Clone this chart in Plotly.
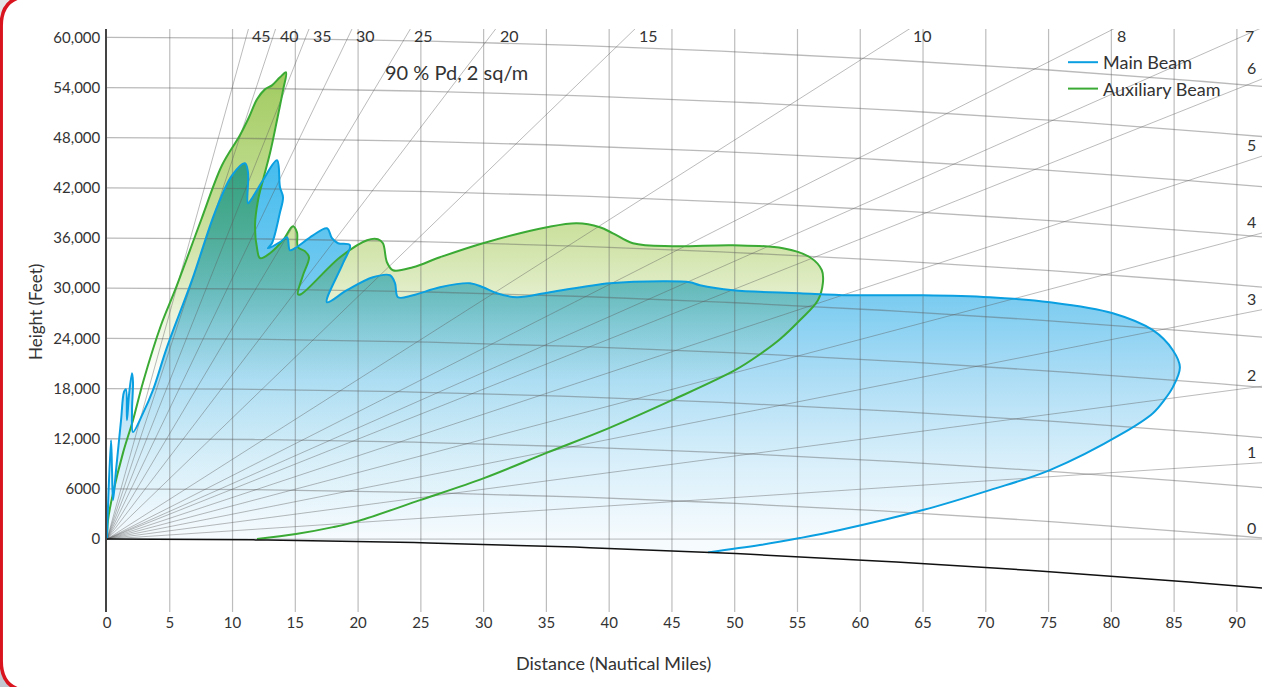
import numpy as np
import plotly.graph_objects as go

# ---------------- data ----------------
# Main beam coverage outline: distance (NM), height (ft)
main_d = [0, 0.08, 0.32, 0.40, 0.48, 0.72, 1.12, 1.35, 1.51, 1.59, 1.75, 1.99, 2.07, 1.99, 2.07,
          2.87, 3.66, 4.78, 6.77, 8.60, 9.96, 10.99, 11.23, 11.23, 11.55, 12.42, 13.54, 13.78,
          14.02, 13.78, 13.14, 12.82, 13.78, 14.34, 14.57, 14.97, 16.41, 17.52, 17.92, 18.40,
          19.35, 18.80, 17.52, 19.11, 21.18, 22.54, 22.94, 23.18, 24.37, 26.52, 28.91, 29.95,
          31.06, 32.65, 35.28, 40.06, 44.28, 46.43, 47.23, 49.86, 55.19, 59.18, 64.99, 70.32,
          75.10, 80.12, 83.31, 84.90, 85.46, 84.90, 84.20, 83.31, 80.92, 75.10, 70.32, 64.99,
          58.38, 55.19, 52.01, 47.87]
main_h = [0, 3830, 11830, 8250, 4660, 8250, 14220, 17570, 17930, 14220, 17210, 19840, 18760, 15180,
          12790, 15060, 17810, 22950, 30960, 39080, 43500, 44940, 43860, 40160, 40760, 42910,
          45300, 42070, 40880, 39080, 35380, 34780, 35500, 36090, 34540, 34780, 36330, 37170,
          35980, 35380, 35140, 32990, 28330, 29760, 31310, 31550, 30600, 28920, 29160, 30120,
          30600, 30120, 29400, 28920, 29520, 30600, 30840, 30720, 30360, 29760, 29400, 29160,
          29160, 28920, 28330, 27010, 24980, 22590, 20560, 18170, 16600, 15060, 12670, 8250,
          5860, 3470, 1080, 120, -720, -1590]

# Auxiliary beam coverage outline
aux_d = [0, 0.08, 0.48, 1.27, 2.07, 2.87, 4.30, 5.42, 7.49, 9.16, 10.59, 11.31, 11.95, 12.58,
         13.14, 13.78, 14.26, 14.02, 13.54, 12.98, 12.42, 12.03, 11.79, 11.95, 12.19, 12.98,
         14.02, 14.81, 15.13, 15.21, 15.77, 16.09, 15.61, 15.21, 15.45, 18.56, 20.71, 21.58,
         21.98, 22.30, 22.78, 24.37, 26.52, 29.95, 35.04, 37.43, 39.26, 40.30, 41.89, 45.08,
         49.86, 53.84, 55.99, 56.94, 57.02, 56.63, 55.19, 53.60, 52.01, 50.02, 45.00, 39.98,
         34.96, 30.03, 24.93, 19.99, 18.00, 15.05, 11.95]
aux_h = [0, 2270, 5500, 10280, 14220, 18760, 25570, 29760, 38130, 44700, 48290, 50440, 52590,
         53780, 54260, 55220, 55820, 53660, 50080, 46130, 42910, 40520, 37530, 34780, 33590,
         34180, 35740, 37410, 36690, 34900, 34420, 33700, 31550, 29280, 29280, 33700, 35740,
         35860, 35380, 33110, 32150, 32510, 33700, 35380, 37290, 37770, 37290, 36570, 35380,
         35020, 35140, 34780, 33700, 32150, 30600, 28570, 26170, 23900, 22110, 20200, 16610,
         13270, 10280, 7290, 4660, 2150, 1430, 600, 0]

assert len(main_d) == len(main_h) and len(aux_d) == len(aux_h)

x_ticks = list(range(0, 95, 5))
y_tick_vals = [0, 6000, 12000, 18000, 24000, 30000, 36000, 42000, 48000, 54000, 60000]
y_tick_text = ["0", "6000", "12,000", "18,000", "24,000", "30,000", "36,000", "42,000",
               "48,000", "54,000", "60,000"]
height_levels = [6000, 12000, 18000, 24000, 30000, 36000, 42000, 48000, 54000, 60000]
elev_right = [0, 1, 2, 3, 4, 5, 6]                 # labelled on the right edge (degrees)
elev_top = [7, 8, 10, 15, 20, 25, 30, 35, 40, 45]  # labelled along the top (degrees)

# ---------------- geometry constants ----------------
D_MAX = 92.0
Y_MIN, Y_MAX = -8720, 61000
EARTH_C = 0.692          # ft per NM^2 (earth curvature drop)
K_RIGHT = 5690.0         # ft per NM per unit tan(elevation)
K_TOP = 5414.0

FONT = "Lato, 'Open Sans', sans-serif"
TXT = "#333333"
BLUE = "#0a9fe0"
GREEN = "#3aaa35"
SMOOTH = 1.0
W_TXT = 400

fig = go.Figure()

# --- fills ---
ed = np.linspace(main_d[-1], 0, 40)
blue_fill_d = list(main_d) + list(ed)
blue_fill_h = list(main_h) + list(-EARTH_C * ed ** 2)

fig.add_trace(go.Scatter(
    x=aux_d, y=aux_h, mode="lines", fill="toself",
    line=dict(width=0, shape="spline", smoothing=SMOOTH),
    fillgradient=dict(type="vertical", start=0, stop=56000,
                      colorscale=[[0, "rgb(255,255,255)"], [0.34, "rgb(254,255,252)"],
                                  [0.46, "rgb(238,245,224)"], [0.56, "rgb(220,234,190)"],
                                  [0.66, "rgb(204,225,160)"], [1, "rgb(160,203,95)"]]),
    showlegend=False, hoverinfo="skip"))
fig.add_trace(go.Scatter(
    x=blue_fill_d, y=blue_fill_h, mode="lines", fill="toself",
    line=dict(width=0, shape="spline", smoothing=SMOOTH),
    fillgradient=dict(type="vertical", start=0, stop=45000,
                      colorscale=[[0, "rgb(246,251,254)"], [0.22, "rgb(214,238,250)"],
                                  [0.44, "rgb(170,220,245)"], [0.66, "rgb(118,202,240)"],
                                  [1, "rgb(70,189,238)"]]),
    showlegend=False, hoverinfo="skip"))

# --- grid: vertical distance lines ---
gx, gy = [], []
for t in x_ticks[1:]:
    gx += [t, t, None]
    gy += [Y_MIN, Y_MAX, None]
fig.add_trace(go.Scatter(x=gx, y=gy, mode="lines", line=dict(color="rgba(90,90,90,0.40)", width=1.2),
                         showlegend=False, hoverinfo="skip"))

# --- grid: constant-height curves ---
dd = np.linspace(0, D_MAX, 80)
hx, hy = [], []
for H in height_levels:
    hx += list(dd) + [None]
    hy += list(H - EARTH_C * dd ** 2) + [None]
fig.add_trace(go.Scatter(x=hx, y=hy, mode="lines", line=dict(color="rgba(90,90,90,0.42)", width=1.3),
                         showlegend=False, hoverinfo="skip"))

# --- grid: elevation angle lines ---
ex, ey = [], []
for a in elev_right:
    ex += [0, D_MAX, None]
    ey += [0, K_RIGHT * D_MAX * np.tan(np.radians(a)), None]
for a in elev_top:
    ex += [0, D_MAX, None]
    ey += [0, K_TOP * D_MAX * np.tan(np.radians(a)), None]
fig.add_trace(go.Scatter(x=ex, y=ey, mode="lines", line=dict(color="rgba(90,90,90,0.46)", width=0.9),
                         showlegend=False, hoverinfo="skip"))

# --- outlines ---
fig.add_trace(go.Scatter(x=aux_d, y=aux_h, mode="lines", name="Auxiliary Beam", legendrank=2,
                         line=dict(color=GREEN, width=2, shape="spline", smoothing=SMOOTH),
                         hoverinfo="skip"))
fig.add_trace(go.Scatter(x=main_d, y=main_h, mode="lines", name="Main Beam", legendrank=1,
                         line=dict(color=BLUE, width=2, shape="spline", smoothing=SMOOTH),
                         hoverinfo="skip"))

# --- earth surface ---
fig.add_trace(go.Scatter(x=dd, y=-EARTH_C * dd ** 2, mode="lines", line=dict(color="#111111", width=1.5),
                         showlegend=False, hoverinfo="skip"))

# ---------------- annotations ----------------
ann = []
for a in elev_top:
    s = K_TOP * np.tan(np.radians(a))
    d_exit = min(Y_MAX / s, D_MAX)
    right = d_exit > 88
    ann.append(dict(x=d_exit, y=60240, xref="x", yref="y", text=str(a), showarrow=False,
                    xanchor="right" if right else "left", xshift=-3 if right else 2,
                    yanchor="middle", font=dict(family=FONT, size=16, color=TXT, weight=W_TXT)))
for a in elev_right:
    yend = K_RIGHT * D_MAX * np.tan(np.radians(a))
    ann.append(dict(x=D_MAX, y=yend, xref="x", yref="y", text=str(a), showarrow=False,
                    xanchor="right", xshift=-4, yanchor="bottom", yshift=0,
                    font=dict(family=FONT, size=16, color=TXT, weight=W_TXT)))

ann.append(dict(x=27.8, y=55900, xref="x", yref="y", text="90 % Pd, 2 sq/m", showarrow=False,
                xanchor="center", yanchor="middle",
                font=dict(family=FONT, size=20, color=TXT, weight=W_TXT)))

PL, PT, PW, PH = 107, 29, 1155, 583


def px(x):
    return (x - PL) / PW


def py(y):
    return (PT + PH - y) / PH


ann.append(dict(x=px(613), y=py(663), xref="paper", yref="paper", text="Distance (Nautical Miles)",
                showarrow=False, xanchor="center", yanchor="middle",
                font=dict(family=FONT, size=18, color=TXT, weight=W_TXT)))
ann.append(dict(x=px(35), y=py(312), xref="paper", yref="paper", text="Height (Feet)",
                showarrow=False, xanchor="center", yanchor="middle", textangle=-90,
                font=dict(family=FONT, size=17, color=TXT, weight=W_TXT)))

# ---------------- frame shapes ----------------
L, T, B, R = 1.2, -4, 691, 30
frame = (f"M {px(1400)},{py(T)} L {px(L + R)},{py(T)} Q {px(L)},{py(T)} {px(L)},{py(T + R)} "
         f"L {px(L)},{py(B - R)} Q {px(L)},{py(B)} {px(L + R)},{py(B)} L {px(1400)},{py(B)}")
corner_tl = (f"M {px(-5)},{py(-8)} L {px(L + R)},{py(-8)} L {px(L + R)},{py(T)} "
             f"Q {px(L)},{py(T)} {px(L)},{py(T + R)} L {px(-5)},{py(T + R)} Z")
corner_bl = (f"M {px(-5)},{py(700)} L {px(L + R)},{py(700)} L {px(L + R)},{py(B)} "
             f"Q {px(L)},{py(B)} {px(L)},{py(B - R)} L {px(-5)},{py(B - R)} Z")
shapes = [
    dict(type="path", path=corner_tl, xref="paper", yref="paper", fillcolor="#e4e4e4",
         line=dict(width=0), layer="above"),
    dict(type="path", path=corner_bl, xref="paper", yref="paper", fillcolor="#c3c8d0",
         line=dict(width=0), layer="above"),
    dict(type="path", path=frame, xref="paper", yref="paper", line=dict(color="#d9141f", width=3.5),
         layer="above"),
]

fig.update_layout(
    width=1271, height=687, autosize=False,
    margin=dict(l=PL, r=1271 - PL - PW, t=PT, b=687 - PT - PH),
    paper_bgcolor="white", plot_bgcolor="white",
    font=dict(family=FONT, color=TXT, weight=W_TXT),
    xaxis=dict(range=[0, D_MAX], tickvals=x_ticks, showgrid=False, zeroline=False, showline=False,
               ticks="", tickfont=dict(family=FONT, size=15, color=TXT, weight=W_TXT), fixedrange=True),
    yaxis=dict(range=[Y_MIN, Y_MAX], tickvals=y_tick_vals, ticktext=y_tick_text, showgrid=False,
               zeroline=False, showline=True, linecolor="#444444", linewidth=1.5, ticks="",
               ticklabelstandoff=2, tickfont=dict(family=FONT, size=15, color=TXT, weight=W_TXT),
               fixedrange=True),
    legend=dict(x=px(1063), y=py(44), xanchor="left", yanchor="top", bgcolor="rgba(0,0,0,0)",
                font=dict(family=FONT, size=18, color=TXT, weight=W_TXT), itemwidth=30, tracegroupgap=0),
    annotations=ann, shapes=shapes,
)

post = """
document.body.style.margin = '0';
document.body.style.overflow = 'hidden';
var gd = document.getElementById('{plot_id}');
function blendFills(){
  var tr = gd.querySelectorAll('.scatterlayer .trace');
  if (tr.length > 1) {
    tr[1].style.mixBlendMode = 'multiply';
  }
}
blendFills();
gd.on('plotly_afterplot', blendFills);
"""

fig.write_html("out.html", config={"displayModeBar": False}, post_script=post)
